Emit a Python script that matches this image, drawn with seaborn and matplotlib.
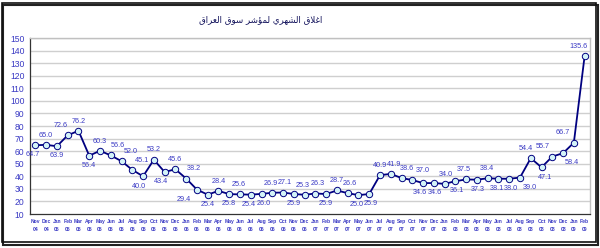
import matplotlib
matplotlib.use("Agg")
import matplotlib.pyplot as plt
import seaborn as sns
import pandas as pd
from matplotlib.patches import Rectangle

# ---- data ----
months = ["Nov", "Dec", "Jan", "Feb", "Mar", "Apr", "May", "Jun", "Jul", "Aug", "Sep", "Oct",
          "Nov", "Dec", "Jan", "Feb", "Mar", "Apr", "May", "Jun", "Jul", "Aug", "Sep", "Oct",
          "Nov", "Dec", "Jan", "Feb", "Mar", "Apr", "May", "Jun", "Jul", "Aug", "Sep", "Oct",
          "Nov", "Dec", "Jan", "Feb", "Mar", "Apr", "May", "Jun", "Jul", "Aug", "Sep", "Oct",
          "Nov", "Dec", "Jan", "Feb"]
years = ["04", "04", "05", "05", "05", "05", "05", "05", "05", "05", "05", "05",
         "05", "05", "06", "06", "06", "06", "06", "06", "06", "06", "06", "06",
         "06", "06", "07", "07", "07", "07", "07", "07", "07", "07", "07", "07",
         "07", "07", "08", "08", "08", "08", "08", "08", "08", "08", "08", "08",
         "08", "08", "09", "09"]
index_values = [64.7, 65.0, 63.9, 72.6, 76.2, 56.4, 60.3, 56.6, 52.0, 45.1, 40.0, 53.2,
                43.4, 45.6, 38.2, 29.4, 25.4, 28.4, 25.8, 25.6, 25.4, 26.0, 26.9, 27.1,
                25.9, 25.3, 26.3, 25.9, 28.7, 26.6, 25.0, 25.9, 40.9, 41.9, 38.6, 37.0,
                34.6, 34.6, 34.0, 36.1, 37.5, 37.3, 38.4, 38.1, 38.0, 39.0, 54.4, 47.1,
                55.7, 58.4, 66.7, 135.6]
title_text = "اغلاق الشهري لمؤشر سوق العراق"

# label placement style (side: 1 = above, -1 = below; shift in pixels)
label_side = [-1, 1, -1, 1, 1, -1, 1, 1, 1, 1, -1, 1,
              -1, 1, 1, -1, -1, 1, -1, 1, -1, -1, 1, 1,
              -1, 1, 1, -1, 1, 1, -1, -1, 1, 1, 1, 1,
              -1, -1, 1, -1, 1, -1, 1, -1, -1, -1, 1, -1,
              1, -1, 1, 1]
label_shift = [-3, 0, 0, -7, 0, 0, 0, 7, 9, 10, -4, 0,
               -4, 0, 8, -13, 0, 0, 0, -1, -2, 2, -1, 2,
               0, -2, 2, 0, 0, 2, -2, 2, 0, 3, 5, 10,
               -3, 1, 1, 2, -2, 1, -1, -2, 2, 10, -5, 3,
               -10, 9, -11, -6]

# ---- simple Arabic shaping (matplotlib has no bidi/shaping) ----
FORMS = {
    'ا': ('\uFE8D', '\uFE8E', None, None),
    'غ': ('\uFECD', '\uFECE', '\uFECF', '\uFED0'),
    'ل': ('\uFEDD', '\uFEDE', '\uFEDF', '\uFEE0'),
    'ق': ('\uFED5', '\uFED6', '\uFED7', '\uFED8'),
    'ش': ('\uFEB5', '\uFEB6', '\uFEB7', '\uFEB8'),
    'ه': ('\uFEE9', '\uFEEA', '\uFEEB', '\uFEEC'),
    'ر': ('\uFEAD', '\uFEAE', None, None),
    'ي': ('\uFEF1', '\uFEF2', '\uFEF3', '\uFEF4'),
    'م': ('\uFEE1', '\uFEE2', '\uFEE3', '\uFEE4'),
    'ؤ': ('\uFE85', '\uFE86', None, None),
    'س': ('\uFEB1', '\uFEB2', '\uFEB3', '\uFEB4'),
    'و': ('\uFEED', '\uFEEE', None, None),
    'ع': ('\uFEC9', '\uFECA', '\uFECB', '\uFECC'),
}


def shape(text):
    out_words = []
    for w in text.split(' '):
        glyphs = []
        i = 0
        prev_joins = False
        while i < len(w):
            c = w[i]
            nxt = w[i + 1] if i + 1 < len(w) else None
            if c == 'ل' and nxt == 'ا':
                glyphs.append('\uFEFC' if prev_joins else '\uFEFB')
                prev_joins = False
                i += 2
                continue
            f = FORMS.get(c)
            if f is None:
                glyphs.append(c)
                prev_joins = False
                i += 1
                continue
            can_fwd = f[2] is not None and nxt is not None and nxt in FORMS
            if prev_joins and can_fwd:
                g = f[3]
            elif prev_joins:
                g = f[1]
            elif can_fwd:
                g = f[2]
            else:
                g = f[0]
            glyphs.append(g)
            prev_joins = can_fwd
            i += 1
        out_words.append(''.join(reversed(glyphs)))
    return ' '.join(reversed(out_words))


sns.set_theme(style="white")
plt.rcParams['font.family'] = ['Liberation Sans', 'DejaVu Sans']

df = pd.DataFrame({"pos": range(len(index_values)), "value": index_values})

W, H = 600, 248
fig = plt.figure(figsize=(W / 100, H / 100), dpi=100)
fig.patch.set_facecolor("white")

ax = fig.add_axes([30 / W, 1 - 214 / H, 560 / W, 176 / H])
ax.set_facecolor("white")

navy = "#000080"
blue_txt = "#3a3ac4"

for yv in range(20, 151, 10):
    ax.axhline(yv, color="#cfcfcf", lw=1.0, zorder=0)

sns.lineplot(data=df, x="pos", y="value", ax=ax, color=navy, lw=1.3,
             marker="o", markersize=4.6, markerfacecolor="#d4f4f8",
             markeredgecolor=navy, markeredgewidth=0.7, zorder=3)

px = 72 / 100  # points per pixel
for i, v in enumerate(index_values):
    side = label_side[i]
    ax.annotate(f"{v:.1f}", (i, v), xytext=(label_shift[i] * px, 4.5 * side),
                textcoords="offset points",
                ha="center", va="bottom" if side > 0 else "top",
                fontsize=5.2, color=blue_txt, zorder=4)

ax.set_xlim(-0.5, len(index_values) - 0.5)
ax.set_ylim(10, 150)
ax.set_yticks(range(10, 151, 10))
ax.set_xticks(range(len(index_values)))
ax.set_xticklabels([f"{m}\n{y}" for m, y in zip(months, years)], fontsize=3.6,
                   color=blue_txt, fontweight="bold", linespacing=1.9)
ax.set_xticks([i - 0.5 for i in range(len(index_values) + 1)], minor=True)
ax.tick_params(axis="x", which="major", length=0, pad=3.5)
ax.tick_params(axis="x", which="minor", length=2.5, width=0.8, color="#333333", direction="out")
ax.tick_params(axis="y", length=2.5, width=0.8, color="#333333", direction="out",
               labelsize=6.2, labelcolor=blue_txt, pad=1.5)
ax.set_xlabel("")
ax.set_ylabel("")

for s in ["top", "right"]:
    ax.spines[s].set_color("#c0c0c0")
    ax.spines[s].set_linewidth(1.0)
for s in ["left", "bottom"]:
    ax.spines[s].set_color("#333333")
    ax.spines[s].set_linewidth(0.9)

fig.text(261 / W, 1 - 20 / H, shape(title_text), ha="center", va="center",
         fontsize=6.2, color="#10105a", family=["DejaVu Sans"])

# outer frame with shadow
fig.patches.append(Rectangle((3 / W, 1 - 245 / H), 595 / W, 240 / H, transform=fig.transFigure,
                             facecolor="none", edgecolor="#222222", lw=1.5, zorder=0))
fig.patches.append(Rectangle((1.5 / W, 1 - 242 / H), 594 / W, 239 / H, transform=fig.transFigure,
                             facecolor="none", edgecolor="#111111", lw=1.2, zorder=1))

fig.savefig("out.png", dpi=100, facecolor="white")
